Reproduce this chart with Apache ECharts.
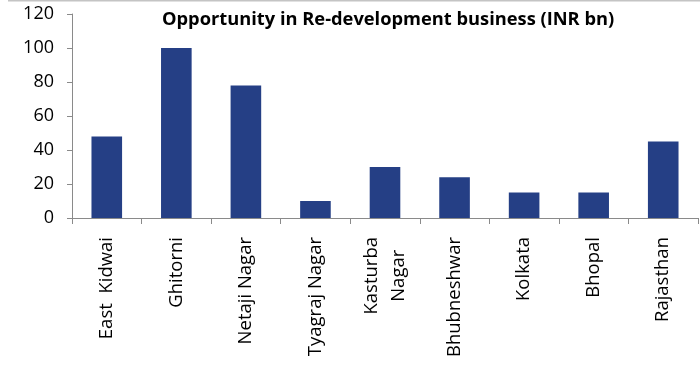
<!DOCTYPE html>
<html>
<head>
<meta charset="utf-8">
<title>Opportunity in Re-development business</title>
<script src="https://cdn.jsdelivr.net/npm/echarts@6/dist/echarts.min.js"></script>
<style>
  html, body { margin: 0; padding: 0; background: #fff; }
  #chart { width: 700px; height: 366px; }
</style>
</head>
<body>
<div id="chart"></div>
<script>
// Project locations (line breaks mark wrapped labels)
const categories = ['East  Kidwai', 'Ghitorni', 'Netaji Nagar', 'Tyagraj Nagar', 'Kasturba\nNagar',
  'Bhubneshwar', 'Kolkata', 'Bhopal', 'Rajasthan'];
// Opportunity size, INR bn
const opportunity = [48, 100, 78, 10, 30, 24, 15, 15, 45];
// Value axis ticks
const yTicks = [0, 20, 40, 60, 80, 100, 120];

const AXIS_GREY = '#8a8a8a';
const BAR_BLUE = '#253F85';
const FONT = '"Open Sans", "Liberation Sans", sans-serif';

const chart = echarts.init(document.getElementById('chart'), null, { renderer: 'canvas' });

chart.setOption({
  animation: false,
  backgroundColor: '#fff',
  title: {
    text: 'Opportunity in Re-development business (INR bn)',
    left: 162,
    top: 11,
    padding: 0,
    textStyle: { fontFamily: FONT, fontWeight: 'bold', fontSize: 18.3, color: '#000' }
  },
  graphic: [{
    type: 'line',
    shape: { x1: 8, y1: 0.5, x2: 700, y2: 0.5 },
    style: { stroke: '#c4c4c4', lineWidth: 2 },
    silent: true
  }],
  grid: { left: 72, right: 2, top: 14, bottom: 148, containLabel: false },
  xAxis: {
    type: 'category',
    data: categories,
    boundaryGap: true,
    axisLine: { lineStyle: { color: AXIS_GREY, width: 1 } },
    axisTick: { show: true, alignWithLabel: false, length: 6, lineStyle: { color: AXIS_GREY } },
    axisLabel: {
      interval: 0,
      rotate: 90,
      margin: 19,
      formatter: (v) => v.split('\n').map(s => '{c|' + s + '}').join('\n'),
      rich: {
        c: { align: 'center', fontFamily: FONT, fontSize: 18.5, color: '#000', lineHeight: 27 }
      }
    }
  },
  yAxis: {
    type: 'value',
    min: yTicks[0],
    max: yTicks[yTicks.length - 1],
    interval: yTicks[1] - yTicks[0],
    splitLine: { show: false },
    axisLine: { show: true, lineStyle: { color: AXIS_GREY, width: 1 } },
    axisTick: { show: true, length: 5, lineStyle: { color: AXIS_GREY } },
    axisLabel: { margin: 18, fontFamily: FONT, fontSize: 18, color: '#000' }
  },
  series: [{
    type: 'bar',
    data: opportunity,
    barWidth: '44%',
    itemStyle: { color: BAR_BLUE }
  }]
});
</script>
</body>
</html>
